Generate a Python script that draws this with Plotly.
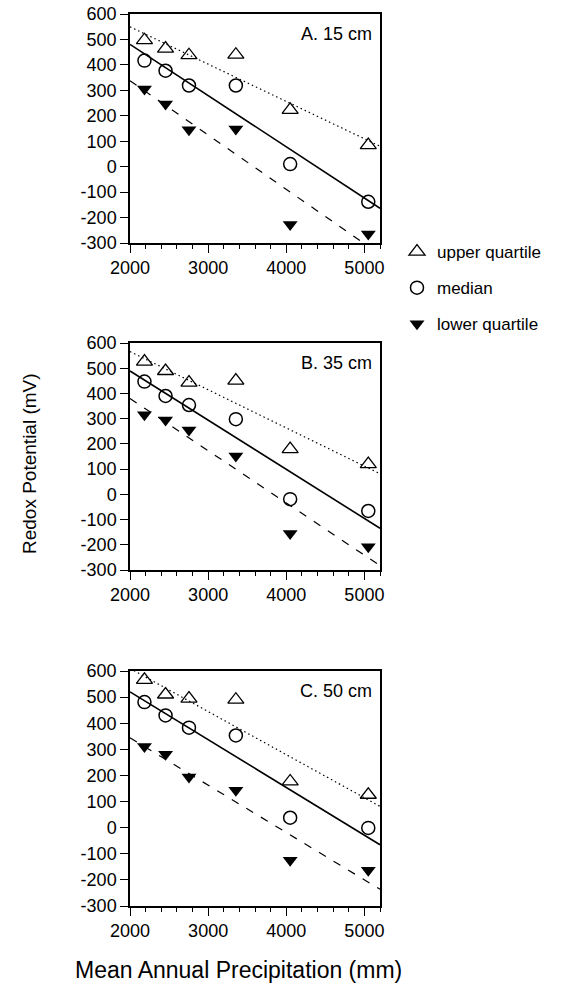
import numpy as np
import plotly.graph_objects as go

# ---- data ----
precip = [2185, 2455, 2755, 3355, 4050, 5050]

a_upper = [497, 464, 438, 440, 223, 85]
a_median = [417, 377, 319, 319, 10, -138]
a_lower = [305, 246, 145, 148, -227, -265]

b_upper = [526, 489, 443, 451, 179, 120]
b_median = [447, 390, 354, 298, -19, -66]
b_lower = [316, 295, 255, 152, -155, -208]

c_upper = [566, 510, 494, 490, 177, 126]
c_median = [481, 430, 383, 353, 38, -1]
c_lower = [311, 281, 194, 143, -125, -163]

panel_labels = ["A. 15 cm", "B. 35 cm", "C. 50 cm"]
series_names = ["upper quartile", "median", "lower quartile"]
x_ticks = [2000, 3000, 4000, 5000]
y_ticks = [-300, -200, -100, 0, 100, 200, 300, 400, 500, 600]
y_ticktext = ["-300", "-200", "-100", "0", "100", "200", "300", "400", "500", "600"]

panels = [
    (a_upper, a_median, a_lower),
    (b_upper, b_median, b_lower),
    (c_upper, c_median, c_lower),
]

# ---- styles ----
W, H = 567, 989
FONT = "Liberation Sans, Arial, Helvetica, sans-serif"
X_RANGE = [2000, 5200]
Y_RANGE = [-300, 600]

# pixel boxes of the three plot frames (top, bottom)
frames_px = [(14, 243), (343, 570), (671, 906)]
x_px = (130, 380)

marker_styles = [
    dict(symbol="triangle-up-open", size=14, color="black", line=dict(width=1.3, color="black")),
    dict(symbol="circle-open", size=13, color="black", line=dict(width=1.5, color="black")),
    dict(symbol="triangle-down", size=13, color="black", line=dict(width=0, color="black")),
]
line_styles = [
    dict(color="black", width=1.2, dash="1.5px,3px"),
    dict(color="black", width=1.6, dash="solid"),
    dict(color="black", width=1.2, dash="8px,9px"),
]

fig = go.Figure()

for i, series in enumerate(panels):
    ax = "" if i == 0 else str(i + 1)
    xref, yref = "x" + ax, "y" + ax
    x_fit = np.array(X_RANGE, dtype=float)
    for j, vals in enumerate(series):
        slope, intercept = np.polyfit(precip, vals, 1)
        fig.add_trace(go.Scatter(
            x=x_fit, y=slope * x_fit + intercept, mode="lines",
            line=line_styles[j], showlegend=False, hoverinfo="skip",
            xaxis=xref, yaxis=yref,
        ))
    for j, vals in enumerate(series):
        fig.add_trace(go.Scatter(
            x=precip, y=vals, mode="markers", marker=marker_styles[j],
            name=series_names[j], legendgroup=series_names[j],
            showlegend=(i == 0), cliponaxis=False,
            xaxis=xref, yaxis=yref,
        ))

layout = dict(
    width=W, height=H, autosize=False,
    margin=dict(l=0, r=0, t=0, b=0, pad=0, autoexpand=False),
    paper_bgcolor="white", plot_bgcolor="white",
    font=dict(family=FONT, color="black", size=16),
    showlegend=True,
    legend=dict(
        x=397 / W, y=1 - 234 / H, xanchor="left", yanchor="top",
        font=dict(family=FONT, size=17, color="black"),
        bgcolor="rgba(0,0,0,0)", tracegroupgap=11, traceorder="grouped",
    ),
)

annotations = []
for i in range(3):
    top, bot = frames_px[i]
    ax = "" if i == 0 else str(i + 1)
    xdom = [x_px[0] / W, x_px[1] / W]
    ydom = [1 - bot / H, 1 - top / H]
    layout["xaxis" + ax] = dict(
        domain=xdom, range=X_RANGE, anchor="y" + ax, automargin=False,
        tickvals=x_ticks, ticks="outside", ticklen=8, tickwidth=1.2, tickcolor="black",
        minor=dict(dtick=200, tick0=2000, ticks="outside", ticklen=4, tickwidth=1, tickcolor="black"),
        showline=True, linecolor="black", linewidth=1.5, mirror=True,
        showgrid=False, zeroline=False,
        tickfont=dict(family=FONT, size=18, color="black"),
    )
    layout["yaxis" + ax] = dict(
        domain=ydom, range=Y_RANGE, anchor="x" + ax, automargin=False,
        tickvals=y_ticks, ticktext=y_ticktext,
        ticks="outside", ticklen=8, tickwidth=1.2, tickcolor="black",
        showline=True, linecolor="black", linewidth=1.5, mirror=True,
        showgrid=False, zeroline=False,
        tickfont=dict(family=FONT, size=18, color="black"),
    )
    annotations.append(dict(
        text=panel_labels[i], x=xdom[1] - 6 / W, y=ydom[1] - 8 / H,
        xref="paper", yref="paper", xanchor="right", yanchor="top",
        showarrow=False, font=dict(family=FONT, size=18, color="black"),
    ))

annotations.append(dict(
    text="Redox Potential (mV)", x=29 / W, y=1 - 464 / H, xref="paper", yref="paper",
    textangle=-90, showarrow=False, xanchor="center", yanchor="middle",
    font=dict(family=FONT, size=19, color="black"),
))
annotations.append(dict(
    text="Mean Annual Precipitation (mm)", x=238 / W, y=1 - 970 / H, xref="paper", yref="paper",
    showarrow=False, xanchor="center", yanchor="middle",
    font=dict(family=FONT, size=23, color="black"),
))
layout["annotations"] = annotations

fig.update_layout(**layout)
fig.write_html(
    "out.html",
    config={"displayModeBar": False},
    post_script="document.body.style.margin='0';document.body.style.overflow='hidden';",
)
